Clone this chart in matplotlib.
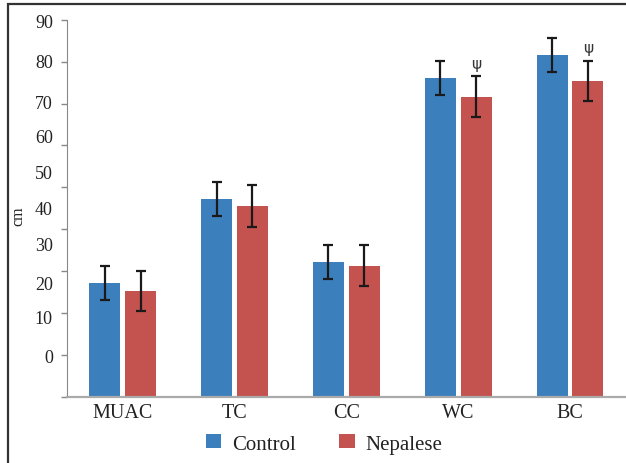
import numpy as np
import matplotlib
matplotlib.use("Agg")
import matplotlib.pyplot as plt
from matplotlib.patches import Rectangle

plt.rcParams['font.family'] = ['Liberation Serif', 'DejaVu Serif']

# data
categories = ["MUAC", "TC", "CC", "WC", "BC"]
control = [27.2, 47.3, 32.2, 76.1, 81.6]
control_sd = [4.1, 4.1, 4.1, 4.1, 4.1]
nepalese = [25.3, 45.6, 31.3, 71.6, 75.4]
nepalese_sd = [4.8, 5.0, 4.9, 4.9, 4.8]
marked = [False, False, False, True, True]   # psi mark over Nepalese bar

# y tick labels as printed in the source (they drift off the tick marks)
ytick_labels = ["90", "80", "70", "60", "50", "40", "30", "20", "10", "0"]
ytick_label_pos = [89.7, 80.2, 70.6, 62.3, 53.7, 45.3, 36.5, 27.4, 19.1, 10.0]

blue = "#3C7FBD"
red = "#C4524F"

fig = plt.figure(figsize=(6.26, 4.64), dpi=100)
ax = fig.add_axes([66.7 / 626, 1 - 398 / 464, 1 - 66.7 / 626, (398 - 20.7) / 464])

x = np.arange(len(categories))
w = 0.277
off = 0.16
ax.bar(x - off, control, w, color=blue, label="Control", zorder=2)
ax.bar(x + off, nepalese, w, color=red, label="Nepalese", zorder=2)
ax.errorbar(x - off, control, yerr=control_sd, fmt="none", ecolor="#1a1a1a",
            elinewidth=1.6, capsize=3.8, capthick=1.6, zorder=3)
ax.errorbar(x + off, nepalese, yerr=nepalese_sd, fmt="none", ecolor="#1a1a1a",
            elinewidth=1.6, capsize=3.8, capthick=1.6, zorder=3)

for i, m in enumerate(marked):
    if m:
        ax.annotate("ψ", (x[i] + off, nepalese[i] + nepalese_sd[i]),
                    xytext=(0, 4), textcoords="offset points",
                    ha="center", va="bottom", fontsize=11, color="#333333",
                    family="DejaVu Sans")

ax.set_xlim(-0.5, 4.5)
ax.set_ylim(0, 90)
ax.set_xticks(x, categories, fontsize=14.5)
ax.tick_params(axis="x", length=0, pad=4, colors="#222222")

ax.yaxis.remove_overlapping_locs = False
ax.set_yticks(np.arange(0, 91, 10))
ax.set_yticklabels([])
ax.set_yticks(ytick_label_pos, ytick_labels, minor=True)
ax.tick_params(axis="y", which="major", length=4.5, width=1, color="#888888")
ax.tick_params(axis="y", which="minor", length=0, pad=10, labelsize=13,
               labelcolor="#222222")

for s in ["top", "right"]:
    ax.spines[s].set_visible(False)
ax.spines["left"].set_color("#888888")
ax.spines["bottom"].set_color("#AAAAAA")
ax.spines["bottom"].set_linewidth(1.6)

fig.text(18 / 626, 1 - 216 / 464, "cm", rotation=90, ha="center", va="center",
         fontsize=11.5, color="#222222")

fig.legend(loc="center", bbox_to_anchor=(324 / 626, 1 - 445 / 464), ncol=2,
           frameon=False, fontsize=15, handlelength=0.75, handleheight=0.62,
           handletextpad=0.5, columnspacing=2.1, labelcolor="#222222")

# outer frame of the figure panel
fig.add_artist(Rectangle((8 / 626, -0.1), 1.2, 1 - 5 / 464 + 0.1,
                         transform=fig.transFigure, fill=False,
                         edgecolor="#333333", linewidth=1.6))

fig.savefig("out.png", dpi=100)
